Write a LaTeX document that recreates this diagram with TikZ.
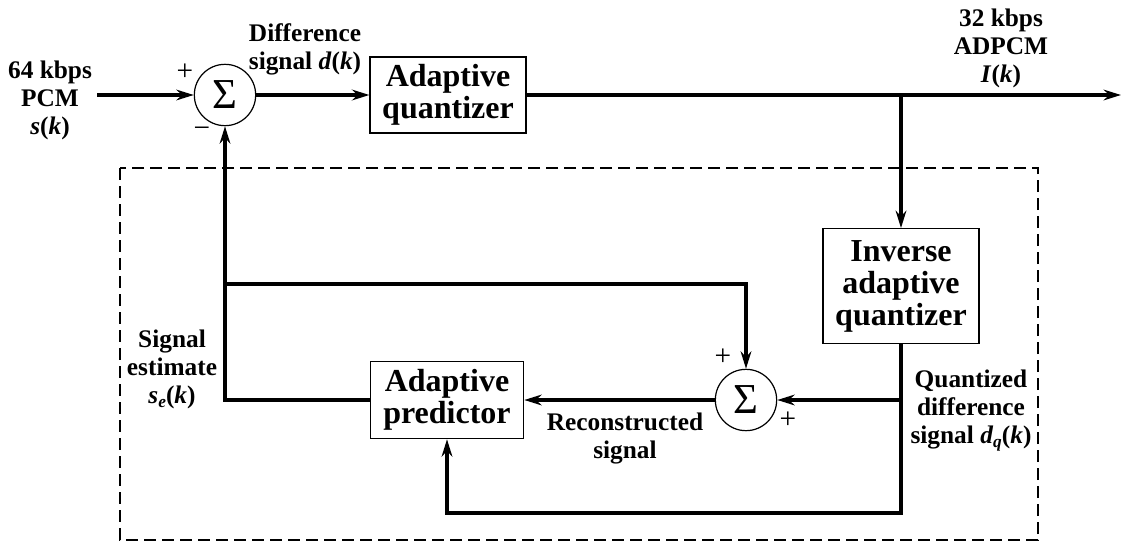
\documentclass[tikz,border=0pt]{standalone}
\usepackage{fontspec}
\setmainfont{Liberation Serif}
\usetikzlibrary{arrows.meta}
\newcommand\blkfont{\fontsize{24}{24}\selectfont\bfseries}
\newcommand\lblfont{\fontsize{19}{21}\selectfont\bfseries}
\newcommand\sumfont{\fontsize{32}{32}\selectfont}
\newcommand\sgnfont{\fontsize{22}{22}\selectfont}
\newcommand\mysub[1]{\raisebox{-0.35ex}{\fontsize{13}{13}\selectfont\textit{#1}}}
\begin{document}
\begin{tikzpicture}[x=0.75pt,y=-0.75pt,
  blk/.style={draw,line width=0.9pt,inner sep=0pt,align=center,font=\blkfont},
  sumnode/.style={draw,circle,line width=0.9pt,minimum size=46pt,inner sep=0pt,font=\sumfont},
  lbl/.style={align=center,font=\lblfont,inner sep=0pt},
  sgn/.style={font=\sgnfont,inner sep=0pt},
  wire/.style={line width=2.3pt},
  arr/.style={wire,-{Stealth[length=13pt,width=8pt]}},
  frame/.style={line width=0.9pt,dash pattern=on 9pt off 4.5pt}]
\useasboundingbox (0,0) rectangle (1122,543);
% dashed frame
\draw[frame] (120,168) rectangle (1038,540);
% blocks
\node[sumnode] (s1) at (225,95) {Σ};
\node[blk,minimum width=117pt,minimum height=57pt] (aq) at (448,95) {Adaptive\\quantizer};
\node[blk,minimum width=117pt,minimum height=86pt] (iaq) at (901,286) {Inverse\\adaptive\\quantizer};
\node[sumnode] (s2) at (746,400) {Σ};
\node[blk,minimum width=115pt,minimum height=58pt] (ap) at (447,400) {Adaptive\\predictor};
% coordinates
\coordinate (in) at (97,95);
\coordinate (out) at (1121,95);
\coordinate (br) at (iaq.north |- aq.east);
\coordinate (c1) at (iaq.south |- s2.east);
\coordinate (c2) at (901,513);
\coordinate (c3) at (ap.south |- c2);
\coordinate (c4) at (s1.south |- ap.west);
\coordinate (c5) at (225,284);
\coordinate (c6) at (s2.north |- c5);
% connectors
\draw[arr] (in) -- (s1.west);
\draw[arr] (s1.east) -- (aq.west);
\draw[arr] (aq.east) -- (out);
\draw[arr] (br) -- (iaq.north);
\draw[wire] (iaq.south) -- (c1);
\draw[arr] (c1) -- (s2.east);
\draw[arr] (c1) -- (c2) -- (c3) -- (ap.south);
\draw[arr] (s2.west) -- (ap.east);
\draw[arr] (ap.west) -- (c4) -- (s1.south);
\draw[arr] (c5) -- (c6) -- (s2.north);
% labels
\node[lbl] (lin) at (50,100) {64 kbps\\PCM\\\textit{s}(\textit{k})};
\node[lbl] (ldiff) at (305,49) {Difference\\signal \textit{d}(\textit{k})};
\node[lbl] (lout) at (1001,48) {32 kbps\\ADPCM\\\textit{I}(\textit{k})};
\node[lbl] (lest) at (172,369) {Signal\\estimate\\\textit{s}\mysub{e}(\textit{k})};
\node[lbl] (lrec) at (625,439) {Reconstructed\\signal};
\node[lbl] (lq) at (971,411) {Quantized\\difference\\signal \textit{d}\mysub{q}(\textit{k})};
% signs
\node[sgn] (p1) at (185,72) {+};
\node[sgn] (m1) at (202,132) {−};
\node[sgn] (p2) at (723,357) {+};
\node[sgn] (p3) at (788,420) {+};
\end{tikzpicture}
\end{document}
